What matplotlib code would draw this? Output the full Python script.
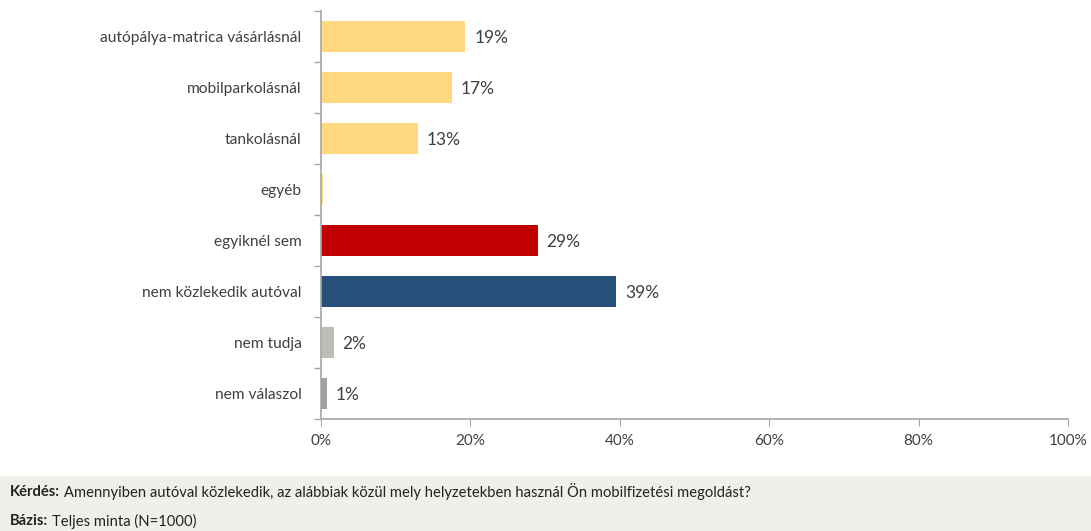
import matplotlib
matplotlib.use("Agg")
import matplotlib.pyplot as plt
from matplotlib.patches import Rectangle
from matplotlib.ticker import FixedLocator, PercentFormatter
import numpy as np

categories = ["autópálya-matrica vásárlásnál", "mobilparkolásnál", "tankolásnál", "egyéb",
              "egyiknél sem", "nem közlekedik autóval", "nem tudja", "nem válaszol"]
values = [19.3, 17.5, 13.0, 0.3, 29.0, 39.5, 1.7, 0.8]
labels = ["19%", "17%", "13%", "", "29%", "39%", "2%", "1%"]
colors = ["#FFD880", "#FFD880", "#FFD880", "#FFD880", "#C00000", "#26507A", "#BDBDB5", "#A0A0A0"]
xticks = [0, 20, 40, 60, 80, 100]
question = "Amennyiben autóval közlekedik, az alábbiak közül mely helyzetekben használ Ön mobilfizetési megoldást?"
base = "Teljes minta (N=1000)"

plt.rcParams['font.family'] = ['Lato', 'DejaVu Sans']
text_color = "#404040"
spine_color = "#A6A6A6"

fig = plt.figure(figsize=(10.91, 5.31), dpi=100)
ax = fig.add_axes([321/1091, 1-419/531, (1068-321)/1091, (419-11)/531])

y = np.arange(len(categories))
ax.barh(y, values, height=0.6, color=colors, edgecolor="none")
for yi, v, lab in zip(y, values, labels):
    if lab:
        ax.text(v + 1.2, yi + 0.03, lab, va="center", ha="left", fontsize=12.5, color=text_color)

ax.set_xlim(0, 100)
ax.set_ylim(len(categories) - 0.5, -0.5)
ax.set_yticks(y)
ax.set_yticklabels(categories, fontsize=11.2, color=text_color)
ax.tick_params(axis="y", which="major", length=0, pad=14)
ax.yaxis.set_minor_locator(FixedLocator(np.arange(-0.5, len(categories), 1.0)))
ax.tick_params(axis="y", which="minor", length=5, color=spine_color, width=1)
ax.set_xticks(xticks)
ax.xaxis.set_major_formatter(PercentFormatter(decimals=0))
ax.tick_params(axis="x", length=5, color=spine_color, labelsize=11, labelcolor=text_color, pad=6)

for s in ["top", "right"]:
    ax.spines[s].set_visible(False)
for s in ["left", "bottom"]:
    ax.spines[s].set_color(spine_color)
    ax.spines[s].set_linewidth(1.2)

fig.patches.append(Rectangle((0, 0), 1, 1 - 476/531, transform=fig.transFigure,
                             facecolor="#F0EFE9", edgecolor="none", zorder=0))

renderer = fig.canvas.get_renderer()
def label_pair(x_px, y_px, bold, rest, fs=10.6):
    t = fig.text(x_px/1091, 1 - y_px/531, bold, fontsize=fs, fontweight="bold", color="#222222", va="center")
    bb = t.get_window_extent(renderer=renderer)
    fig.text((bb.x1 + 4)/1091, 1 - y_px/531, rest, fontsize=fs, color="#222222", va="center")

label_pair(10, 492, "Kérdés:", question)
label_pair(10, 521, "Bázis:", base)

fig.savefig("out.png", dpi=100)
